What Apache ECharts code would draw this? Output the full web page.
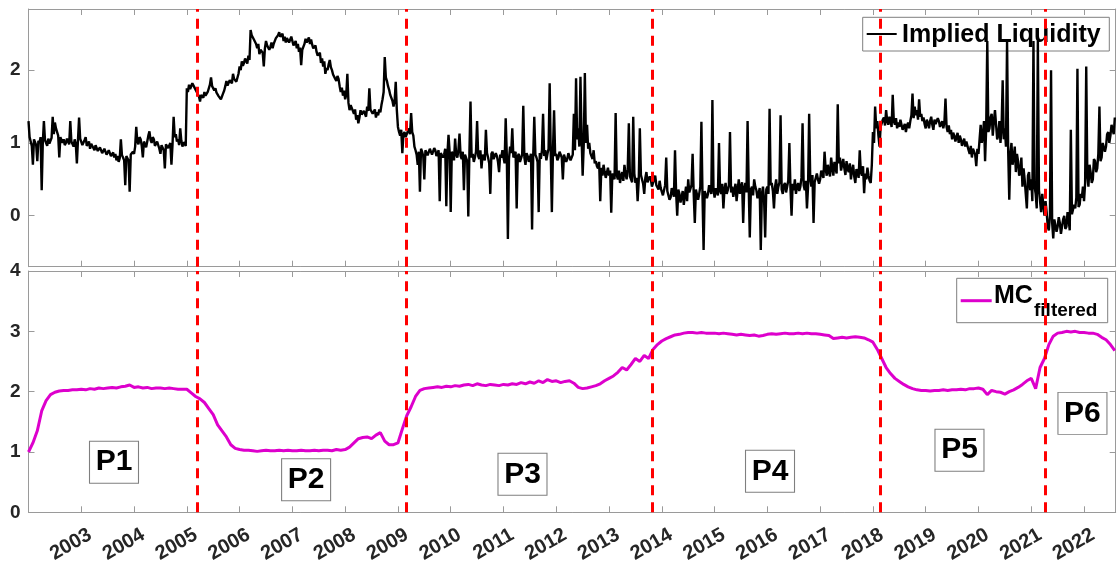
<!DOCTYPE html>
<html><head><meta charset="utf-8">
<script src="https://cdn.jsdelivr.net/npm/echarts@6/dist/echarts.min.js"></script>
<style>html,body{margin:0;padding:0;background:#fff}#c{width:1117px;height:568px}</style>
</head><body><div id="c"></div>
<script>
// ---------- data ----------
const firstYear = 2002;
const yearTicks = [2003,2004,2005,2006,2007,2008,2009,2010,2011,2012,2013,2014,2015,2016,2017,2018,2019,2020,2021,2022];
const ilTicks = [0, 1, 2];
const mcTicks = [0, 1, 2, 3, 4];

// Implied liquidity, 48 readings per year (one row per year, 2002..2022)
const impliedLiquidityByYear = [
  [1.30,1.08,1.02,0.96,0.70,1.05,1.05,0.97,0.75,1.03,1.00,1.08,0.35,1.00,1.30,1.04,1.02,0.96,1.06,0.99,1.00,1.07,1.36,1.12,1.28,1.20,1.22,1.10,0.80,1.08,1.10,1.00,1.05,0.97,1.00,1.06,1.08,0.98,1.30,1.02,1.02,0.95,1.05,0.99,0.72,1.04,1.35,1.06],
  [1.05,0.97,0.95,1.04,1.08,0.96,0.98,1.02,0.92,0.99,1.00,0.93,0.90,0.97,0.95,0.89,0.88,0.94,0.92,0.86,0.86,0.92,0.90,0.84,0.84,0.90,0.88,0.82,0.82,0.87,0.80,0.85,0.76,0.82,0.74,0.79,1.05,0.83,0.80,0.76,0.42,0.82,0.80,0.76,0.33,0.84,0.82,0.88],
  [0.85,0.95,1.22,1.02,0.98,1.08,1.05,0.96,0.80,1.02,1.00,0.94,1.02,1.10,1.16,1.04,1.00,1.08,1.05,0.96,0.95,1.02,1.00,0.92,0.85,0.97,0.95,0.90,0.65,0.98,1.00,0.93,0.92,1.00,0.70,0.98,1.36,1.08,1.12,1.02,1.05,0.97,1.20,1.03,0.95,1.01,1.00,0.96],
  [1.75,1.70,1.80,1.74,1.76,1.82,1.82,1.76,1.74,1.70,1.68,1.64,1.57,1.66,1.66,1.62,1.70,1.65,1.64,1.70,1.72,1.80,1.90,1.78,1.78,1.72,1.75,1.69,1.70,1.64,1.66,1.60,1.58,1.68,1.72,1.78,1.85,1.79,1.80,1.86,1.88,1.82,1.95,1.88,1.90,1.84,1.85,1.95],
  [2.05,2.00,2.12,2.06,2.10,2.16,2.15,2.09,2.20,2.14,2.55,2.48,2.48,2.42,2.42,2.36,2.30,2.36,2.22,2.28,2.30,2.24,2.05,2.30,2.40,2.34,2.35,2.28,2.32,2.38,2.30,2.36,2.38,2.44,2.42,2.48,2.52,2.46,2.45,2.50,2.40,2.46,2.38,2.44,2.45,2.38,2.40,2.46],
  [2.40,2.34,2.35,2.40,2.30,2.36,2.25,2.31,2.07,2.28,2.30,2.36,2.43,2.38,2.40,2.45,2.36,2.42,2.35,2.30,2.28,2.34,2.25,2.20,2.18,2.24,2.10,2.16,2.05,2.12,1.95,2.03,2.00,2.08,2.14,2.04,2.00,1.94,1.95,1.88,1.85,1.92,1.88,1.78,1.70,1.76,1.65,1.72],
  [1.60,1.66,1.95,1.55,1.45,1.52,1.50,1.44,1.40,1.46,1.32,1.38,1.27,1.35,1.45,1.39,1.38,1.44,1.42,1.36,1.50,1.44,1.75,1.46,1.45,1.40,1.40,1.46,1.35,1.42,1.38,1.46,1.42,1.52,1.60,1.70,2.18,1.90,1.85,1.78,1.73,1.66,1.65,1.58,1.50,1.58,1.84,1.45],
  [1.22,1.15,1.10,1.18,0.86,1.12,1.15,1.08,1.10,1.16,1.20,1.12,1.41,1.15,1.10,0.95,0.90,0.84,0.70,0.88,0.33,0.92,0.88,0.82,0.50,0.90,0.90,0.83,0.85,0.92,0.92,0.84,0.86,0.93,0.90,0.82,0.82,0.90,0.20,0.86,0.88,0.80,0.84,0.92,0.13,0.85,1.11,0.88],
  [0.05,0.88,0.85,0.76,1.06,0.84,0.80,0.90,1.13,0.82,0.78,0.88,0.35,0.84,0.82,0.75,-0.01,0.86,1.57,0.80,0.85,0.74,0.80,0.88,1.30,0.82,0.78,0.90,0.65,0.84,0.85,0.76,1.18,0.86,0.80,0.72,0.30,0.85,0.88,0.78,0.80,0.86,0.82,0.74,0.60,0.84,0.80,0.90],
  [0.80,0.72,1.34,0.84,-0.32,0.78,0.95,0.86,1.20,0.80,0.80,0.88,0.10,0.82,0.85,0.74,0.75,0.84,1.51,0.80,0.70,0.86,0.82,0.74,0.75,0.85,-0.19,0.80,1.36,0.84,0.80,0.74,0.05,0.86,0.78,0.90,1.40,0.82,0.90,0.76,0.85,0.92,1.82,0.84,0.05,0.90,1.45,0.82],
  [0.85,0.76,0.80,0.88,0.90,0.80,0.50,0.84,0.82,0.74,0.78,0.86,0.85,0.76,0.75,0.84,1.40,0.90,1.89,1.05,1.20,0.95,1.91,1.10,0.55,0.98,1.96,1.00,1.25,0.92,1.00,0.86,0.85,0.78,0.90,0.72,0.75,0.68,0.65,0.74,0.20,0.66,0.55,0.70,0.60,0.52,0.50,0.66],
  [0.55,0.62,0.04,0.58,0.60,0.50,1.41,0.56,0.50,0.62,0.45,0.55,0.60,0.48,0.70,0.58,0.50,0.64,1.27,0.54,0.55,0.46,1.36,0.58,0.45,0.52,0.20,0.48,1.20,0.56,0.50,0.44,0.30,0.52,0.60,0.46,0.45,0.54,0.50,0.40,0.40,0.50,0.55,0.42,0.42,0.36,0.48,0.38],
  [0.40,0.28,0.30,0.42,0.80,0.34,0.35,0.22,0.25,0.38,0.40,0.26,0.90,0.32,0.00,0.36,0.30,0.18,0.20,0.34,0.15,0.28,0.40,0.20,0.50,0.32,0.30,0.42,0.85,0.30,-0.10,0.36,0.35,0.22,0.30,0.40,1.29,0.28,-0.47,0.34,0.35,0.24,0.30,0.42,0.40,0.30,1.59,0.36],
  [0.25,0.38,0.40,0.28,1.00,0.34,0.30,0.44,0.10,0.36,0.45,0.30,0.35,0.42,1.15,0.32,0.40,0.26,0.35,0.44,0.20,0.36,0.50,0.30,0.40,0.46,-0.10,0.38,0.45,0.32,1.30,0.42,-0.30,0.36,0.40,0.28,0.50,0.40,0.35,0.24,0.30,0.38,-0.47,0.30,0.40,0.22,-0.30,0.36],
  [0.40,0.30,1.47,0.42,0.45,0.34,0.10,0.40,0.50,0.30,0.40,0.46,1.38,0.36,0.30,0.42,0.45,0.32,0.40,0.48,1.00,0.38,0.00,0.44,0.35,0.50,0.30,0.40,0.45,0.34,0.40,0.52,1.27,0.42,0.35,0.48,0.10,0.40,1.40,0.50,0.40,0.56,-0.10,0.46,0.45,0.58,0.50,0.44],
  [0.50,0.62,0.60,0.52,0.88,0.64,0.55,0.70,0.60,0.54,0.80,0.66,0.55,0.74,0.65,0.58,1.53,0.72,0.80,0.62,0.70,0.78,0.65,0.56,0.75,0.64,0.60,0.72,0.50,0.62,0.70,0.54,0.45,0.64,0.60,0.52,0.90,0.60,0.55,0.68,0.31,0.58,0.50,0.66,0.55,0.48,0.45,0.70],
  [1.15,1.00,1.50,1.20,1.30,1.10,0.95,1.22,1.20,1.32,1.35,1.24,1.45,1.30,1.25,1.36,1.30,1.22,1.66,1.30,1.25,1.34,1.20,1.28,1.22,1.32,1.25,1.18,1.18,1.26,1.15,1.24,1.28,1.20,1.30,1.38,1.68,1.34,1.50,1.38,1.45,1.32,1.60,1.36,1.40,1.30,1.35,1.26],
  [1.20,1.32,1.28,1.20,1.30,1.36,1.25,1.18,1.32,1.26,1.25,1.34,1.30,1.22,1.22,1.30,1.20,1.28,1.61,1.22,1.15,1.24,1.12,1.18,1.05,1.14,1.10,1.02,1.08,1.14,1.00,1.10,1.05,0.96,0.98,1.06,0.95,1.02,1.00,0.90,0.85,0.96,0.80,0.92,0.90,0.84,0.68,0.92],
  [0.85,1.05,1.25,1.00,1.10,1.30,0.75,1.20,2.40,1.15,1.20,1.35,1.40,1.10,1.30,1.45,1.25,1.05,1.10,1.30,1.00,1.20,1.86,1.05,1.20,0.95,2.40,0.90,0.22,0.85,1.00,0.70,0.80,0.95,0.60,0.85,0.75,0.55,0.60,0.80,0.40,0.65,0.50,0.30,0.10,0.55,0.60,0.35],
  [0.50,0.20,2.40,0.40,0.30,0.10,2.40,0.35,0.35,0.05,0.30,0.15,0.00,0.20,0.05,-0.15,-0.20,0.00,2.00,-0.10,-0.31,-0.05,-0.05,-0.22,-0.15,-0.02,-0.10,-0.25,-0.25,-0.05,0.00,-0.18,-0.15,0.05,-0.05,-0.20,1.18,0.02,0.00,0.15,0.10,0.25,2.02,0.12,0.15,0.30,0.25,0.40],
  [0.20,0.45,2.05,0.55,0.40,0.70,0.60,0.45,0.50,0.78,0.75,0.60,0.65,0.85,1.50,0.75,0.80,1.00,1.00,0.88,0.95,1.12,1.15,1.00,1.10,1.25,1.25,1.12,1.35]
];

// MC filtered, 12 readings per year (one row per year, 2002..2022)
const mcFilteredByYear = [
  [1.00,1.15,1.35,1.68,1.85,1.95,1.99,2.01,2.02,2.02,2.03,2.03],
  [2.04,2.03,2.05,2.04,2.06,2.05,2.06,2.07,2.06,2.08,2.09,2.11],
  [2.07,2.08,2.06,2.07,2.05,2.06,2.06,2.05,2.06,2.05,2.04,2.04],
  [2.04,1.98,1.92,1.88,1.82,1.72,1.62,1.45,1.35,1.25,1.12,1.06],
  [1.04,1.03,1.03,1.02,1.01,1.02,1.03,1.02,1.02,1.03,1.02,1.03],
  [1.02,1.02,1.03,1.02,1.02,1.03,1.02,1.03,1.03,1.02,1.04,1.03],
  [1.04,1.08,1.15,1.22,1.24,1.25,1.22,1.28,1.32,1.18,1.12,1.12],
  [1.15,1.38,1.60,1.75,1.92,2.02,2.05,2.06,2.07,2.08,2.07,2.09],
  [2.08,2.10,2.09,2.11,2.12,2.10,2.13,2.11,2.10,2.12,2.11,2.10],
  [2.12,2.11,2.13,2.12,2.15,2.13,2.16,2.14,2.18,2.15,2.20,2.17],
  [2.18,2.15,2.17,2.18,2.14,2.07,2.05,2.06,2.08,2.10,2.13,2.18],
  [2.22,2.26,2.32,2.40,2.36,2.45,2.55,2.50,2.60,2.55,2.70,2.78],
  [2.84,2.88,2.91,2.94,2.95,2.97,2.98,2.98,2.97,2.98,2.97,2.97],
  [2.97,2.96,2.97,2.96,2.95,2.94,2.95,2.94,2.93,2.94,2.92,2.93],
  [2.95,2.96,2.95,2.96,2.97,2.96,2.96,2.97,2.96,2.97,2.96,2.96],
  [2.95,2.94,2.93,2.88,2.89,2.90,2.89,2.90,2.91,2.90,2.89,2.86],
  [2.82,2.70,2.55,2.40,2.30,2.22,2.17,2.12,2.08,2.05,2.03,2.02],
  [2.02,2.01,2.02,2.02,2.03,2.02,2.03,2.03,2.04,2.03,2.05,2.05],
  [2.06,2.04,1.95,2.02,2.00,1.99,1.96,2.00,2.03,2.07,2.12,2.18],
  [2.22,2.05,2.40,2.55,2.78,2.92,2.97,2.98,3.00,2.99,3.00,2.98],
  [2.98,2.97,2.97,2.95,2.90,2.86,2.78,2.68]
];

const breakYears = [2005.19, 2009.16, 2013.82, 2018.13, 2021.27];
const periodLabels = ['P1', 'P2', 'P3', 'P4', 'P5', 'P6'];
const periodX = [2003.62, 2007.26, 2011.36, 2016.05, 2019.64, 2021.97];
const periodY = [0.83, 0.54, 0.63, 0.68, 1.03, 1.64];

// ---------- build ----------
function toPoints(rows, perYear) {
  const out = [];
  rows.forEach((row, k) => row.forEach((v, j) => out.push([firstYear + k + j / perYear, v])));
  return out;
}
const ilData = toPoints(impliedLiquidityByYear, 48);
const mcData = toPoints(mcFilteredByYear, 12);

const FONT = 'Arial, "Liberation Sans", sans-serif';
const AX = '#9a9a9a';
const TXT = '#262626';
const labelShift = 0.17;

function xAx(grid, pos, labels) {
  return {
    gridIndex: grid, type: 'value', position: pos, min: 2002, max: 2022.6,
    axisLine: { show: true, onZero: false, lineStyle: { color: AX, width: 1 } },
    axisTick: { show: true, inside: true, length: 6, customValues: yearTicks, lineStyle: { color: AX } },
    axisLabel: labels ? {
      show: true, rotate: 30, margin: 21, fontSize: 20, fontWeight: 'bold', fontFamily: FONT, color: TXT,
      customValues: yearTicks.map(y => y + labelShift),
      formatter: v => String(Math.round(v))
    } : { show: false },
    splitLine: { show: false }
  };
}
function yAx(grid, pos, min, max, ticks, labels) {
  return {
    gridIndex: grid, type: 'value', position: pos, min: min, max: max,
    axisLine: { show: true, onZero: false, lineStyle: { color: AX, width: 1 } },
    axisTick: { show: true, inside: true, length: 6, customValues: ticks, lineStyle: { color: AX } },
    axisLabel: labels ? {
      show: true, margin: 8, fontSize: 19, fontWeight: 'bold', fontFamily: FONT, color: TXT,
      customValues: ticks
    } : { show: false },
    splitLine: { show: false }
  };
}

const dashed = { color: '#ff0000', width: 3, type: [10, 7] };
function breakLines() {
  return {
    silent: true, symbol: ['none', 'none'], z: 10, label: { show: false },
    lineStyle: dashed, emphasis: { disabled: true },
    data: breakYears.map(x => ({ xAxis: x }))
  };
}

const chart = echarts.init(document.getElementById('c'), null, { renderer: 'canvas' });
chart.setOption({
  animation: false,
  backgroundColor: '#ffffff',
  grid: [
    { left: 28.5, top: 9, width: 1087.2, height: 257.7 },
    { left: 28.5, top: 271, width: 1087.2, height: 241.3 }
  ],
  xAxis: [xAx(0, 'bottom', false), xAx(0, 'top', false), xAx(1, 'bottom', true), xAx(1, 'top', false)],
  yAxis: [
    yAx(0, 'left', -0.7, 2.84, ilTicks, true), yAx(0, 'right', -0.7, 2.84, ilTicks, false),
    yAx(1, 'left', 0, 4, mcTicks, true), yAx(1, 'right', 0, 4, mcTicks, false)
  ],
  series: [
    {
      name: 'Implied Liquidity', type: 'line', xAxisIndex: 0, yAxisIndex: 0, data: ilData,
      showSymbol: false, symbol: 'none', z: 2, lineStyle: { color: '#000000', width: 2.4 }
    },
    {
      name: 'MC filtered', type: 'line', xAxisIndex: 2, yAxisIndex: 2, data: mcData,
      showSymbol: false, symbol: 'none', z: 2, lineStyle: { color: '#dd00cc', width: 3 }
    },
    { type: 'line', xAxisIndex: 0, yAxisIndex: 0, data: [], z: 10, markLine: breakLines() },
    {
      type: 'line', xAxisIndex: 2, yAxisIndex: 2, data: [], z: 10, markLine: breakLines(),
      markPoint: {
        silent: true, symbol: 'rect', symbolSize: [49, 42], z: 6,
        itemStyle: { color: '#ffffff', borderColor: '#7f7f7f', borderWidth: 1 },
        label: { show: true, position: 'inside', color: '#000', fontSize: 30, fontWeight: 'bold', fontFamily: FONT,
                 formatter: p => p.name },
        data: periodLabels.map((n, i) => ({ name: n, coord: [periodX[i], periodY[i]] }))
      }
    }
  ],
  graphic: [
    {
      type: 'group', z: 4, children: [
        { type: 'rect', shape: { x: 862.7, y: 17.3, width: 246.6, height: 33.7 },
          style: { fill: '#fff', stroke: '#7f7f7f', lineWidth: 1 } },
        { type: 'line', shape: { x1: 866.7, y1: 34, x2: 896.7, y2: 34 }, style: { stroke: '#000', lineWidth: 2 } },
        { type: 'text', x: 902, y: 35, style: { text: 'Implied Liquidity', font: 'bold 25px ' + FONT, fill: '#000',
          textAlign: 'left', textVerticalAlign: 'middle' } }
      ]
    },
    {
      type: 'group', z: 4, children: [
        { type: 'rect', shape: { x: 956.7, y: 278.3, width: 151, height: 44.4 },
          style: { fill: '#fff', stroke: '#7f7f7f', lineWidth: 1 } },
        { type: 'line', shape: { x1: 960.7, y1: 300.7, x2: 991.7, y2: 300.7 }, style: { stroke: '#dd00cc', lineWidth: 3 } },
        { type: 'text', x: 994, y: 296, style: { text: 'MC', font: 'bold 25px ' + FONT, fill: '#000',
          textAlign: 'left', textVerticalAlign: 'middle' } },
        { type: 'text', x: 1034, y: 311, style: { text: 'filtered', font: 'bold 19px ' + FONT, fill: '#000',
          textAlign: 'left', textVerticalAlign: 'middle' } }
      ]
    }
  ]
});
</script>
</body></html>
